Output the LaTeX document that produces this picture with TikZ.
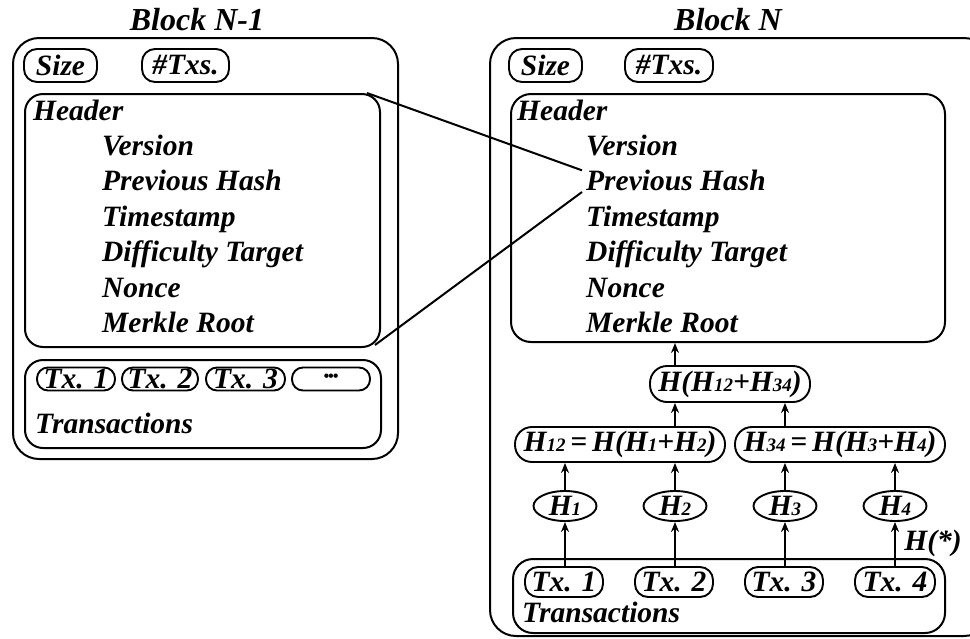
\documentclass[tikz,border=0pt]{standalone}
\usepackage{fontspec}
\setmainfont{Liberation Serif}
\usetikzlibrary{arrows.meta,shapes.geometric}
\newcommand{\sbs}[1]{{\fontsize{19}{19}\selectfont #1}}
\begin{document}
\begin{tikzpicture}[x=1pt,y=-1pt,
  every node/.style={font=\fontsize{29.5}{33}\selectfont\bfseries\itshape},
  frame/.style={draw,line width=2pt,rounded corners=#1,anchor=north west,inner sep=0pt},
  pill/.style={draw,line width=1.9pt,rounded corners=13pt,inner sep=0pt},
  oval/.style={draw,line width=1.9pt,ellipse,inner sep=0pt,minimum width=63pt,minimum height=30pt},
  txt/.style={anchor=base west,inner sep=0pt},
  link/.style={line width=2pt},
  up/.style={line width=2pt,-{Stealth[length=10pt,width=8pt]}}]
\useasboundingbox (0,0) rectangle (970,638);
\clip (0,0) rectangle (970,638);

% ---------------- Block N-1 ----------------
\node[anchor=base] (tl) at (197,30) {\fontsize{32}{36}\selectfont Block N-1};
\node[frame=26pt,minimum width=385pt,minimum height=421pt] (lo) at (12,37) {};
\node[pill,minimum width=73pt,minimum height=33pt] (lsz) at (60.5,65.5) {Size};
\node[pill,minimum width=87pt,minimum height=33pt] (ltx) at (185.5,65.5) {\#Txs.};
\node[frame=18pt,minimum width=355pt,minimum height=253pt] (lh) at (24,93) {};
\node[txt] (lh0) at (33,120) {Header};
\node[txt] (lh1) at (102,155) {Version};
\node[txt] (lh2) at (102,190) {Previous Hash};
\node[txt] (lh3) at (102,226) {Timestamp};
\node[txt] (lh4) at (102,261) {Difficulty Target};
\node[txt] (lh5) at (102,297) {Nonce};
\node[txt] (lh6) at (102,332) {Merkle Root};
\node[frame=18pt,minimum width=356pt,minimum height=88pt] (lt) at (24,359) {};
\node[pill,rounded corners=11pt,minimum width=78pt,minimum height=23pt] (lt1) at (76,379) {Tx. 1};
\node[pill,rounded corners=11pt,minimum width=76pt,minimum height=23pt] (lt2) at (160,379) {Tx. 2};
\node[pill,rounded corners=11pt,minimum width=79pt,minimum height=23pt] (lt3) at (245.5,379) {Tx. 3};
\node[pill,rounded corners=11pt,minimum width=78pt,minimum height=23pt] (lt4) at (331,379) {\fontsize{16}{16}\selectfont\raisebox{3pt}{\textbullet\kern-1pt\textbullet\kern-1pt\textbullet}};
\node[txt] (ltl) at (35,433) {Transactions};

% ---------------- Block N ----------------
\node[anchor=base] (tr) at (728,30) {\fontsize{32}{36}\selectfont Block N};
\node[frame=26pt,minimum width=500pt,minimum height=598pt] (ro) at (489,37) {};
\node[pill,minimum width=73pt,minimum height=33pt] (rsz) at (545.5,65.5) {Size};
\node[pill,minimum width=88pt,minimum height=33pt] (rtx) at (669,65.5) {\#Txs.};
\node[frame=20pt,minimum width=434pt,minimum height=248pt] (rh) at (510,93) {};
\node[txt] (rh0) at (517,120) {Header};
\node[txt] (rh1) at (586,155) {Version};
\node[txt] (rh2) at (586,190) {Previous Hash};
\node[txt] (rh3) at (586,226) {Timestamp};
\node[txt] (rh4) at (586,261) {Difficulty Target};
\node[txt] (rh5) at (586,297) {Nonce};
\node[txt] (rh6) at (586,332) {Merkle Root};

% Merkle tree
\node[pill,rounded corners=17pt,minimum width=160pt,minimum height=36pt] (root) at (730,384) {H(H\sbs{12}+H\sbs{34})};
\node[pill,rounded corners=17pt,minimum width=210pt,minimum height=35pt] (h12) at (620,444.5) {H\sbs{12}\,=\,H(H\sbs{1}+H\sbs{2})};
\node[pill,rounded corners=17pt,minimum width=210pt,minimum height=35pt] (h34) at (840,444.5) {H\sbs{34}\,=\,H(H\sbs{3}+H\sbs{4})};
\node[oval] (h1) at (565,506) {H\sbs{1}};
\node[oval] (h2) at (675,506) {H\sbs{2}};
\node[oval] (h3) at (785,506) {H\sbs{3}};
\node[oval] (h4) at (895,506) {H\sbs{4}};
\node[frame=20pt,minimum width=432pt,minimum height=74pt] (rt) at (512,558) {};
\node[pill,minimum width=78pt,minimum height=30pt] (t1) at (564,582) {Tx. 1};
\node[pill,minimum width=78pt,minimum height=30pt] (t2) at (674,582) {Tx. 2};
\node[pill,minimum width=78pt,minimum height=30pt] (t3) at (784,582) {Tx. 3};
\node[pill,minimum width=80pt,minimum height=30pt] (t4) at (895,582) {Tx. 4};
\node[txt] (rtl) at (522,622) {Transactions};
\node[anchor=center,inner sep=0pt] (hstar) at (933,543) {H(*)};

% hashing arrows
\draw[up] (t1.north -| h1) -- (h1.south);
\draw[up] (t2.north -| h2) -- (h2.south);
\draw[up] (t3.north -| h3) -- (h3.south);
\draw[up] (t4.north -| h4) -- (h4.south);
\draw[up] (h1.north) -- (h1 |- h12.south);
\draw[up] (h2.north) -- (h2 |- h12.south);
\draw[up] (h3.north) -- (h3 |- h34.south);
\draw[up] (h4.north) -- (h4 |- h34.south);
\draw[up] (h2 |- h12.north) -- (h2 |- root.south);
\draw[up] (h3 |- h34.north) -- (h3 |- root.south);
\draw[up] (h2 |- root.north) -- (h2 |- rh.south);

% link from the previous header to "Previous Hash"
\coordinate (la) at ([xshift=-14pt]lh.north east);
\coordinate (lb) at ([xshift=-6pt,yshift=3pt]lh.south east);
\coordinate (pa) at ([xshift=-4pt,yshift=-1pt]rh2.north west);
\coordinate (pb) at ([xshift=-4pt,yshift=-2pt]rh2.base west);
\draw[link] (la) -- (pa);
\draw[link] (lb) -- (pb);
\end{tikzpicture}
\end{document}
